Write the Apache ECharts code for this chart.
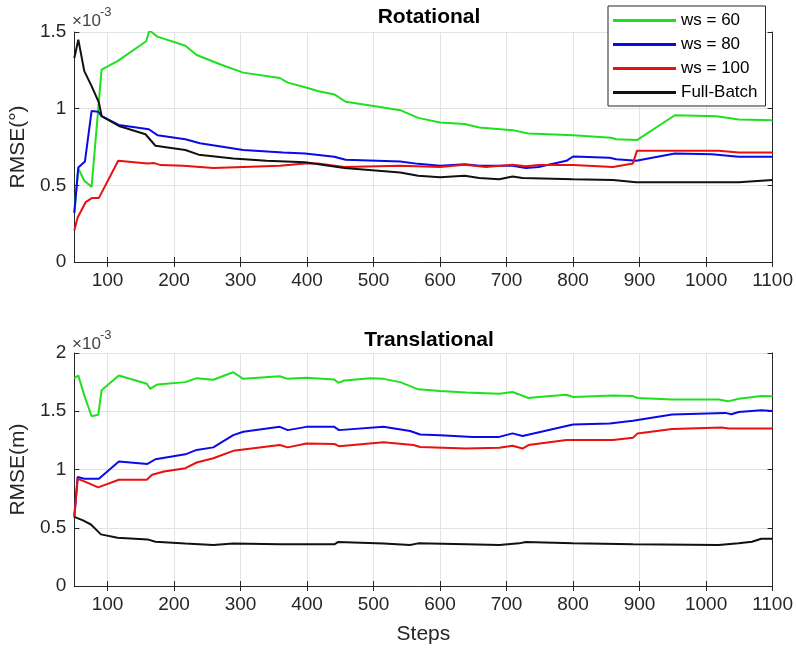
<!DOCTYPE html>
<html>
<head>
<meta charset="utf-8">
<script src="https://cdn.jsdelivr.net/npm/echarts@6/dist/echarts.min.js"></script>
<style>
  html, body { margin: 0; padding: 0; background: #fff; }
  #chart { width: 796px; height: 651px; }
</style>
</head>
<body>
<div id="chart"></div>
<script>
// RMSE values are stored in units of 1e-3 (shown by the "×10^-3" axis multiplier)
const SCALE_EXPONENT = '-3';

const seriesNames = ['ws = 60', 'ws = 80', 'ws = 100', 'Full-Batch'];
const xTicks = [100, 200, 300, 400, 500, 600, 700, 800, 900, 1000, 1100];
const rotTicks = [0, 0.5, 1, 1.5];
const transTicks = [0, 0.5, 1, 1.5, 2];

// ---- Rotational RMSE (deg, ×1e-3) ----
const rotWs60Steps = [50, 56, 65, 76, 91, 115, 158, 163, 175, 217, 234, 269, 304, 359, 371, 397, 416, 441, 458, 500, 540, 567, 600, 637, 659, 709, 733, 800, 857, 865, 896, 953, 1016, 1049, 1100];
const rotWs60 = [0.32, 0.61, 0.53, 0.49, 1.255, 1.31, 1.44, 1.51, 1.47, 1.41, 1.35, 1.29, 1.235, 1.20, 1.17, 1.14, 1.115, 1.093, 1.045, 1.017, 0.99, 0.94, 0.91, 0.90, 0.877, 0.86, 0.838, 0.827, 0.81, 0.80, 0.795, 0.957, 0.95, 0.93, 0.925];

const rotWs80Steps = [50, 56, 66, 76, 86, 91, 117, 162, 175, 217, 239, 304, 364, 397, 441, 458, 540, 567, 600, 637, 659, 709, 729, 748, 790, 800, 855, 865, 895, 953, 1009, 1049, 1100];
const rotWs80 = [0.32, 0.617, 0.656, 0.985, 0.98, 0.952, 0.894, 0.866, 0.827, 0.80, 0.775, 0.73, 0.714, 0.708, 0.686, 0.667, 0.656, 0.64, 0.628, 0.638, 0.628, 0.628, 0.613, 0.62, 0.66, 0.688, 0.68, 0.67, 0.66, 0.708, 0.703, 0.686, 0.686];

const rotWs100Steps = [50, 55, 67, 77, 87, 116, 160, 170, 180, 214, 259, 304, 359, 397, 416, 456, 540, 600, 637, 669, 709, 729, 748, 800, 860, 890, 896, 953, 1019, 1049, 1100];
const rotWs100 = [0.206, 0.29, 0.39, 0.418, 0.418, 0.66, 0.643, 0.645, 0.632, 0.628, 0.613, 0.62, 0.628, 0.643, 0.643, 0.62, 0.628, 0.62, 0.634, 0.62, 0.634, 0.625, 0.632, 0.632, 0.62, 0.643, 0.725, 0.725, 0.725, 0.714, 0.714];

const rotFullSteps = [50, 56, 65, 76, 87, 91, 117, 157, 172, 217, 237, 289, 339, 397, 456, 540, 567, 600, 637, 659, 689, 709, 724, 800, 860, 895, 1049, 1100];
const rotFull = [1.33, 1.45, 1.245, 1.147, 1.04, 0.952, 0.887, 0.833, 0.758, 0.73, 0.70, 0.675, 0.66, 0.65, 0.613, 0.584, 0.563, 0.552, 0.563, 0.548, 0.54, 0.558, 0.548, 0.54, 0.535, 0.52, 0.52, 0.535];

// ---- Translational RMSE (m, ×1e-3) ----
const transWs60Steps = [50, 56, 65, 76, 86, 91, 117, 159, 164, 175, 217, 234, 259, 289, 304, 359, 371, 399, 441, 447, 456, 495, 515, 540, 555, 567, 600, 639, 689, 709, 733, 748, 790, 800, 860, 890, 897, 949, 1019, 1033, 1049, 1083, 1100];
const transWs60 = [1.784, 1.807, 1.636, 1.457, 1.47, 1.68, 1.807, 1.736, 1.693, 1.73, 1.75, 1.784, 1.77, 1.835, 1.778, 1.80, 1.778, 1.787, 1.773, 1.744, 1.764, 1.784, 1.778, 1.75, 1.716, 1.688, 1.673, 1.66, 1.65, 1.665, 1.614, 1.622, 1.642, 1.622, 1.636, 1.63, 1.614, 1.60, 1.60, 1.585, 1.608, 1.63, 1.628];

const transWs80Steps = [50, 55, 65, 87, 117, 160, 172, 217, 234, 259, 289, 304, 359, 371, 399, 441, 448, 515, 555, 570, 600, 649, 689, 709, 724, 800, 855, 890, 949, 1029, 1038, 1049, 1083, 1100];
const transWs80 = [0.60, 0.935, 0.92, 0.92, 1.068, 1.048, 1.088, 1.13, 1.168, 1.19, 1.295, 1.324, 1.366, 1.338, 1.366, 1.366, 1.338, 1.366, 1.33, 1.30, 1.295, 1.28, 1.28, 1.31, 1.287, 1.386, 1.395, 1.418, 1.472, 1.486, 1.474, 1.494, 1.508, 1.503];

const transWs100Steps = [50, 55, 65, 86, 117, 159, 167, 185, 217, 234, 259, 289, 359, 371, 399, 441, 448, 515, 560, 570, 639, 689, 709, 724, 733, 790, 860, 890, 897, 949, 1024, 1034, 1100];
const transWs100 = [0.585, 0.92, 0.898, 0.847, 0.912, 0.912, 0.955, 0.983, 1.011, 1.06, 1.097, 1.16, 1.21, 1.19, 1.224, 1.219, 1.20, 1.233, 1.21, 1.193, 1.18, 1.187, 1.204, 1.18, 1.21, 1.253, 1.253, 1.273, 1.31, 1.347, 1.36, 1.352, 1.352];

const transFullSteps = [50, 63, 75, 90, 115, 160, 172, 217, 259, 289, 359, 441, 447, 515, 555, 567, 639, 689, 719, 729, 800, 890, 1019, 1049, 1069, 1083, 1100];
const transFull = [0.594, 0.563, 0.528, 0.443, 0.415, 0.40, 0.38, 0.364, 0.352, 0.364, 0.358, 0.358, 0.378, 0.364, 0.352, 0.366, 0.358, 0.352, 0.366, 0.378, 0.366, 0.358, 0.352, 0.366, 0.38, 0.406, 0.406];

const colors = ['#1fe01f', '#0a0ae8', '#e81010', '#111111'];

const rotData = [[rotWs60Steps, rotWs60], [rotWs80Steps, rotWs80], [rotWs100Steps, rotWs100], [rotFullSteps, rotFull]];
const transData = [[transWs60Steps, transWs60], [transWs80Steps, transWs80], [transWs100Steps, transWs100], [transFullSteps, transFull]];

const pair = (xs, ys) => xs.map((x, i) => [x, ys[i]]);

const FONT = '"Liberation Sans", Arial, Helvetica, sans-serif';
const AXIS_COLOR = '#262626';
const GRID_COLOR = '#e3e3e3';

const grids = [
  { left: 72, right: 20, top: 32, height: 230 },
  { left: 72, right: 20, top: 353, height: 233 }
];

function xAxisFor(gridIndex, showLabels, name) {
  return {
    type: 'value', gridIndex, min: 50, max: 1100, position: 'bottom',
    name: name || '', nameLocation: 'middle', nameGap: 38,
    nameTextStyle: { fontFamily: FONT, fontSize: 21, color: AXIS_COLOR },
    axisLine: { lineStyle: { color: AXIS_COLOR, width: 1 } },
    axisTick: { inside: true, length: 5, lineStyle: { color: AXIS_COLOR }, customValues: xTicks },
    axisLabel: { show: showLabels, customValues: xTicks, fontFamily: FONT, fontSize: 19, color: AXIS_COLOR, margin: 9,
      formatter: v => String(v) },
    splitLine: { show: true, lineStyle: { color: GRID_COLOR, width: 1 } }
  };
}
function xTopFor(gridIndex) {
  return {
    type: 'value', gridIndex, min: 50, max: 1100, position: 'top',
    axisLine: { lineStyle: { color: AXIS_COLOR, width: 1 } },
    axisTick: { inside: true, length: 5, lineStyle: { color: AXIS_COLOR }, customValues: xTicks },
    axisLabel: { show: false, customValues: xTicks },
    splitLine: { show: false }
  };
}
function yAxisFor(gridIndex, max, name, ticks) {
  return {
    type: 'value', gridIndex, min: 0, max, interval: 0.5, position: 'left',
    name, nameLocation: 'middle', nameGap: 40,
    nameTextStyle: { fontFamily: FONT, fontSize: 21, color: AXIS_COLOR },
    axisLine: { show: true, lineStyle: { color: AXIS_COLOR, width: 1 } },
    axisTick: { show: true, inside: true, length: 5, lineStyle: { color: AXIS_COLOR } },
    axisLabel: { fontFamily: FONT, fontSize: 19, color: AXIS_COLOR, margin: 8,
      formatter: v => (ticks.indexOf(v) >= 0 ? String(v) : '') },
    splitLine: { show: true, lineStyle: { color: GRID_COLOR, width: 1 } }
  };
}
function yRightFor(gridIndex, max) {
  return {
    type: 'value', gridIndex, min: 0, max, interval: 0.5, position: 'right',
    axisLine: { show: true, lineStyle: { color: AXIS_COLOR, width: 1 } },
    axisTick: { show: true, inside: true, length: 5, lineStyle: { color: AXIS_COLOR } },
    axisLabel: { show: false },
    splitLine: { show: false }
  };
}

const series = [];
rotData.forEach((d, i) => series.push({
  name: seriesNames[i], type: 'line', xAxisIndex: 0, yAxisIndex: 0,
  data: pair(d[0], d[1]), symbol: 'none', smooth: false, clip: true,
  lineStyle: { color: colors[i], width: 2 }, itemStyle: { color: colors[i] }, z: 3 + (i === 3 ? 1 : 0)
}));
transData.forEach((d, i) => series.push({
  name: seriesNames[i], type: 'line', xAxisIndex: 1, yAxisIndex: 1,
  data: pair(d[0], d[1]), symbol: 'none', smooth: false, clip: true,
  lineStyle: { color: colors[i], width: 2 }, itemStyle: { color: colors[i] }, z: 3
}));

function multiplier(top) {
  return [
    { type: 'text', left: 72, top: top + 7, style: { text: '×10', font: '17px ' + FONT, fill: '#444' } },
    { type: 'text', left: 100, top: top, style: { text: SCALE_EXPONENT, font: '13px ' + FONT, fill: '#444' } }
  ];
}

const chart = echarts.init(document.getElementById('chart'), null, { renderer: 'canvas' });
chart.setOption({
  backgroundColor: '#fff',
  animation: false,
  textStyle: { fontFamily: FONT },
  title: [
    { text: 'Rotational', left: 424, top: 2, textAlign: 'center',
      textStyle: { fontFamily: FONT, fontSize: 21, fontWeight: 'bold', color: '#000' } },
    { text: 'Translational', left: 424, top: 325, textAlign: 'center',
      textStyle: { fontFamily: FONT, fontSize: 21, fontWeight: 'bold', color: '#000' } }
  ],
  legend: {
    data: seriesNames, orient: 'vertical', left: 608, top: 6,
    backgroundColor: '#fff', borderColor: AXIS_COLOR, borderWidth: 1,
    padding: [6, 8, 5, 5], itemGap: 7, itemWidth: 63, itemHeight: 3, icon: 'rect',
    textStyle: { fontFamily: FONT, fontSize: 17, color: '#000', lineHeight: 17 }, z: 10
  },
  grid: grids,
  xAxis: [xAxisFor(0, true), xAxisFor(1, true, 'Steps'), xTopFor(0), xTopFor(1)],
  yAxis: [yAxisFor(0, 1.5, 'RMSE(°)', rotTicks), yAxisFor(1, 2, 'RMSE(m)', transTicks), yRightFor(0, 1.5), yRightFor(1, 2)],
  graphic: [...multiplier(6), ...multiplier(329)],
  series
});
</script>
</body>
</html>
